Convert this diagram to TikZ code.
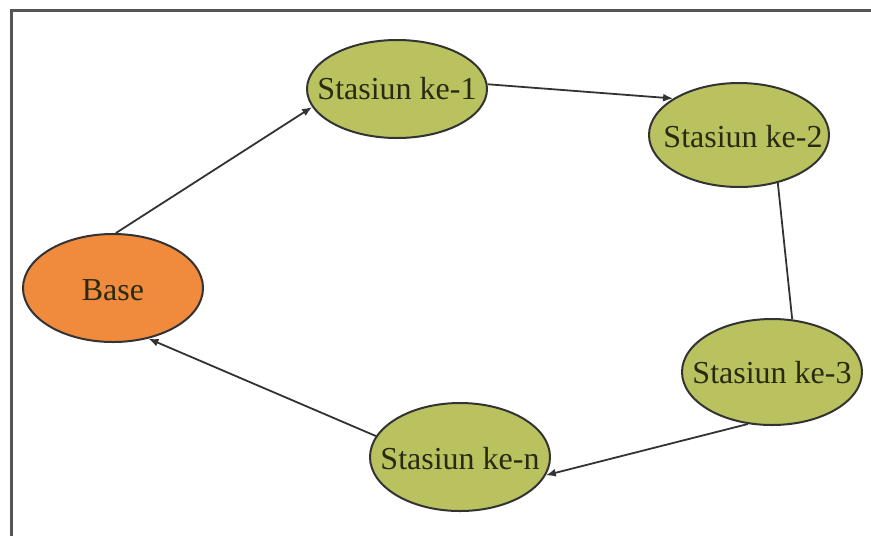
\documentclass[tikz,border=0pt]{standalone}
\usepackage{fontspec}
\setmainfont{Liberation Serif}
\usetikzlibrary{shapes.geometric,arrows.meta}
\definecolor{stgreen}{HTML}{B9C25E}
\definecolor{baseorange}{HTML}{F08A3C}
\definecolor{edgegray}{HTML}{333333}
\definecolor{framegray}{HTML}{555555}
\definecolor{txt}{HTML}{2A2A12}
\tikzset{
  station/.style={ellipse, draw=edgegray, line width=1pt, fill=stgreen, minimum width=90pt, minimum height=52pt, inner sep=0pt},
  basenode/.style={ellipse, draw=edgegray, line width=1pt, fill=baseorange, minimum width=90pt, minimum height=54pt, inner sep=0pt},
  lbl/.style={font=\fontsize{16pt}{18pt}\selectfont, text=txt, inner sep=0pt},
  link/.style={draw=edgegray, line width=0.9pt},
  arrowlink/.style={link, -{Latex[length=5pt,width=4pt]}}
}
\begin{document}
\begin{tikzpicture}[x=0.5pt,y=-0.5pt]
\useasboundingbox (0,0) rectangle (871,536);
\draw[framegray, line width=1.5pt] (871,10) -- (11,10) -- (11,536);
\node[basenode] (b) at (113,288) {};
\node[lbl] (bt) at (113,290) {Base};
\node[station, minimum height=49pt] (s1) at (397,89) {};
\node[lbl] (s1t) at (397,89) {Stasiun ke-1};
\node[station] (s2) at (739,135) {};
\node[lbl] (s2t) at (743,137) {Stasiun ke-2};
\node[station, minimum height=53pt] (s3) at (772,372) {};
\node[lbl] (s3t) at (772,373) {Stasiun ke-3};
\node[station, minimum height=54pt] (sn) at (460,457) {};
\node[lbl] (snt) at (460,459) {Stasiun ke-n};
\draw[arrowlink] (b.87) -- (s1.192);
\draw[arrowlink] (s1.3) -- (s2.151);
\draw[link] (s2.-51) -- (s3.69);
\draw[arrowlink] (s3.245) -- (sn.-12);
\draw[arrowlink] (sn.166) -- (b.305);
\end{tikzpicture}
\end{document}
